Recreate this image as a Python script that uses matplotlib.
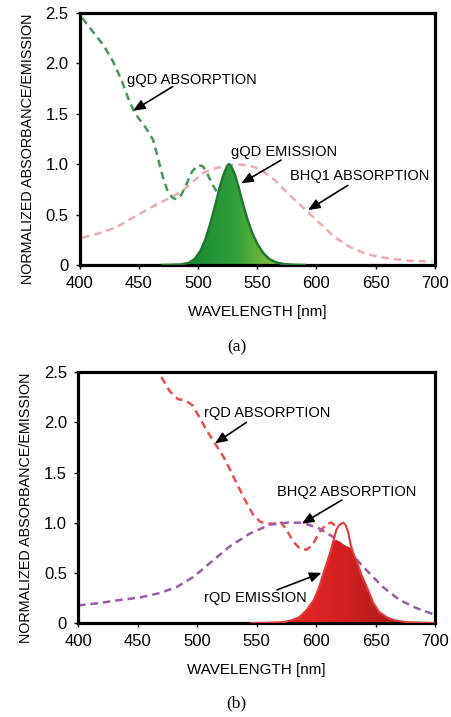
import numpy as np
import matplotlib
matplotlib.use('Agg')
import matplotlib.pyplot as plt
from matplotlib.colors import LinearSegmentedColormap
from matplotlib.patches import Polygon

plt.rcParams['font.family'] = ['Liberation Sans', 'DejaVu Sans']

# ---- panel (a) data ----
gqd_abs_wl = [402, 410, 420, 428, 435, 441, 446, 450, 454, 458, 462, 466, 470, 474, 478, 482, 486, 490, 495, 500, 504, 508, 512, 516, 519]
gqd_abs = [2.45, 2.33, 2.18, 2.02, 1.84, 1.65, 1.52, 1.45, 1.39, 1.32, 1.24, 1.06, 0.88, 0.74, 0.67, 0.65, 0.70, 0.80, 0.93, 0.99, 0.98, 0.90, 0.80, 0.72, 0.70]

bhq1_wl = [402, 415, 430, 445, 460, 475, 485, 495, 505, 515, 525, 532, 540, 548, 556, 565, 575, 585, 595, 605, 615, 628, 640, 652, 665, 680, 698]
bhq1 = [0.27, 0.31, 0.37, 0.47, 0.57, 0.66, 0.72, 0.82, 0.92, 0.96, 0.99, 1.0, 0.99, 0.97, 0.92, 0.84, 0.72, 0.61, 0.50, 0.39, 0.28, 0.18, 0.12, 0.08, 0.06, 0.04, 0.035]

gqd_em_wl = [470, 485, 492, 497, 502, 506, 510, 514, 518, 521, 524, 526, 528, 531, 534, 538, 542, 546, 550, 555, 560, 566, 572, 580, 590]
gqd_em = [0, 0.005, 0.02, 0.06, 0.14, 0.25, 0.40, 0.57, 0.76, 0.88, 0.97, 1.0, 0.98, 0.90, 0.78, 0.60, 0.44, 0.31, 0.21, 0.12, 0.06, 0.025, 0.01, 0.003, 0]

# ---- panel (b) data ----
rqd_abs_wl = [470, 477, 484, 490, 496, 502, 508, 515, 522, 528, 535, 541, 547, 553, 558, 564, 570, 575, 581, 586, 592, 597, 603, 609, 613, 617]
rqd_abs = [2.45, 2.31, 2.23, 2.22, 2.17, 2.05, 1.92, 1.79, 1.66, 1.52, 1.35, 1.21, 1.08, 1.01, 0.99, 0.99, 1.01, 0.93, 0.81, 0.745, 0.73, 0.78, 0.91, 0.99, 1.0, 0.96]

bhq2_wl = [400, 418, 435, 452, 469, 483, 497, 511, 527, 544, 561, 575, 589, 603, 614, 628, 642, 656, 670, 684, 699]
bhq2 = [0.175, 0.2, 0.23, 0.255, 0.30, 0.36, 0.46, 0.60, 0.76, 0.89, 0.98, 1.0, 1.0, 0.94, 0.86, 0.71, 0.53, 0.36, 0.23, 0.15, 0.085]

rqd_em_wl = [545, 560, 573, 580, 586, 592, 598, 602, 606, 609, 612, 615, 617, 619, 621, 623, 625, 627, 629, 631, 634, 638, 641, 645, 648, 653, 659, 665, 675, 690, 700]
rqd_em_line = [0, 0.003, 0.01, 0.03, 0.06, 0.13, 0.23, 0.34, 0.49, 0.60, 0.71, 0.84, 0.93, 0.97, 0.99, 1.0, 0.97, 0.90, 0.78, 0.70, 0.62, 0.48, 0.40, 0.29, 0.20, 0.11, 0.06, 0.03, 0.01, 0.003, 0]
rqd_em_fill = [0, 0.003, 0.01, 0.03, 0.06, 0.13, 0.23, 0.34, 0.49, 0.60, 0.71, 0.82, 0.83, 0.815, 0.80, 0.785, 0.77, 0.76, 0.75, 0.70, 0.62, 0.48, 0.40, 0.29, 0.20, 0.11, 0.06, 0.03, 0.01, 0.003, 0]

yticks = [0, 0.5, 1.0, 1.5, 2.0, 2.5]
ytick_labels = ['0', '0.5', '1.0', '1.5', '2.0', '2.5']
xticks = [400, 450, 500, 550, 600, 650, 700]


def gradient_fill(ax, wl, vals, colors, z):
    cmap = LinearSegmentedColormap.from_list('g', colors)
    grad = np.linspace(0, 1, 256).reshape(1, -1)
    im = ax.imshow(grad, extent=[wl[0], wl[-1], 0, max(vals) + 0.02], aspect='auto',
                   cmap=cmap, zorder=z, interpolation='bilinear')
    poly = Polygon(list(zip(wl, vals)), closed=True, facecolor='none', edgecolor='none')
    ax.add_patch(poly)
    im.set_clip_path(poly)


def style_axes(ax):
    ax.set_xlim(400, 700)
    ax.set_ylim(0, 2.5)
    ax.set_xticks(xticks)
    ax.set_yticks(yticks)
    ax.set_yticklabels(ytick_labels)
    ax.tick_params(direction='out', length=3, width=1, labelsize=12, pad=5)
    for s in ax.spines.values():
        s.set_linewidth(2.3)
    ax.set_xlabel('WAVELENGTH [nm]', fontsize=11, labelpad=10)
    ax.set_ylabel('NORMALIZED ABSORBANCE/EMISSION', fontsize=10.4)
    ax.yaxis.set_label_coords(-0.125, 0.46)


def label(ax, text, txy, tail, head):
    ax.text(txy[0], txy[1], text, fontsize=10.5, ha='left', va='center', zorder=6)
    ax.annotate('', xy=head, xytext=tail, zorder=6,
                arrowprops=dict(arrowstyle='-|>,head_length=0.7,head_width=0.3',
                                color='black', lw=1.2, shrinkA=0, shrinkB=0))


fig = plt.figure(figsize=(4.51, 7.17), dpi=100)

# (a)
ax1 = fig.add_axes([0.177, 0.6304, 0.787, 0.3515])
ax1.plot(bhq1_wl, bhq1, color='#f2a9b2', lw=1.8, dashes=(3, 2), zorder=1)
ax1.plot(gqd_abs_wl, gqd_abs, color='#3f9c52', lw=1.8, dashes=(3, 2), zorder=1)
gradient_fill(ax1, gqd_em_wl, gqd_em, ['#0d7a2c', '#2f9e3a', '#c4dc3e'], 2)
ax1.plot(gqd_em_wl, gqd_em, color='#1f7a30', lw=1.8, zorder=3)
style_axes(ax1)
label(ax1, 'gQD ABSORPTION', (439.5, 1.84), (478.5, 1.77), (445, 1.53))
label(ax1, 'gQD EMISSION', (528, 1.125), (570, 1.04), (536.5, 0.81))
label(ax1, 'BHQ1 ABSORPTION', (577.5, 0.88), (626.5, 0.79), (593, 0.545))

# (b)
ax2 = fig.add_axes([0.173, 0.131, 0.792, 0.350])
ax2.plot(rqd_abs_wl, rqd_abs, color='#ea5048', lw=1.8, dashes=(3, 2), zorder=1)
ax2.plot(bhq2_wl, bhq2, color='#9b5aab', lw=1.8, dashes=(3, 2), zorder=1)
gradient_fill(ax2, rqd_em_wl, rqd_em_fill, ['#f02a2a', '#d42020', '#8a1616'], 2)
ax2.plot(rqd_em_wl, rqd_em_line, color='#e23a3a', lw=1.5, zorder=3)
style_axes(ax2)
label(ax2, 'rQD ABSORPTION', (505.5, 2.09), (541.5, 2.0), (515, 1.79))
label(ax2, 'BHQ2 ABSORPTION', (567, 1.31), (621.5, 1.225), (588, 0.99))
label(ax2, 'rQD EMISSION', (505.5, 0.25), (567, 0.33), (604.5, 0.50))

fig.text(0.525, 1 - 347 / 717, '(a)', family='Liberation Serif', fontsize=12.5, ha='center', va='center')
fig.text(0.525, 1 - 703 / 717, '(b)', family='Liberation Serif', fontsize=12.5, ha='center', va='center')

fig.savefig('out.png', dpi=100)
